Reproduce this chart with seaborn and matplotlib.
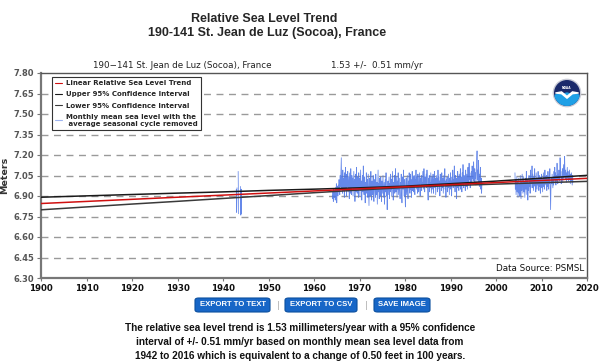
import numpy as np
import pandas as pd
import seaborn as sns
import matplotlib
import matplotlib.pyplot as plt
from matplotlib.lines import Line2D
from matplotlib.patches import FancyBboxPatch, Circle, Wedge, Polygon

matplotlib.use("Agg")

# monthly mean sea level (m), seasonal cycle removed
# 1942-1944 record: (start year, start month, values)
early_pieces = [
    (1942, 12, [6.95, 6.78, 6.96]),
    (1943, 5, [7.08, 6.77]),
    (1943, 11, [6.97, 6.76, 6.95, 6.77]),
]

# 1964-01 .. 1996-12
main_start = (1964, 1)
main_levels = [
    6.90, 6.88, 6.93, 6.86, 6.95, 6.91, 6.89, 6.94, 6.87, 6.96, 6.92, 6.99,
    6.85, 6.94, 6.97, 6.90, 6.98, 6.93, 7.02, 6.95, 6.91, 7.05, 6.97, 7.08,
    7.18, 6.96, 7.04, 6.92, 7.09, 6.98, 6.94, 7.03, 6.89, 7.07, 7.00, 7.11,
    6.95, 7.06, 6.90, 7.02, 6.97, 7.08, 6.93, 6.99, 7.04, 6.88, 7.01, 7.07,
    6.92, 7.10, 6.97, 6.91, 7.05, 6.96, 7.03, 6.90, 6.99, 7.08, 6.94, 7.02,
    6.86, 7.00, 7.06, 6.93, 7.11, 6.97, 6.92, 7.04, 6.98, 6.89, 7.07, 6.95,
    7.03, 6.90, 6.99, 7.09, 6.94, 7.01, 6.87, 6.98, 7.05, 6.93, 7.12, 6.96,
    6.91, 7.04, 6.97, 6.85, 7.00, 6.95, 7.07, 6.92, 6.98, 7.02, 6.89, 7.06,
    6.94, 6.83, 6.99, 7.03, 6.90, 6.96, 7.08, 6.93, 6.87, 7.01, 6.95, 6.91,
    7.05, 6.92, 6.86, 6.98, 7.02, 6.94, 6.89, 7.06, 6.97, 6.91, 7.00, 6.84,
    6.96, 7.09, 6.93, 6.99, 6.88, 7.03, 6.95, 6.90, 7.04, 6.97, 6.86, 7.01,
    6.92, 6.98, 7.05, 6.89, 6.95, 7.00, 6.84, 6.97, 7.02, 6.93, 7.07, 6.90,
    6.96, 6.80, 6.94, 7.01, 6.91, 6.97, 7.04, 6.88, 6.99, 6.93, 7.06, 6.95,
    7.02, 6.90, 6.98, 7.08, 6.94, 6.87, 7.00, 6.96, 7.05, 6.92, 6.99, 7.10,
    6.93, 7.04, 6.97, 6.89, 7.01, 6.95, 7.07, 6.91, 6.98, 7.03, 6.94, 6.88,
    7.00, 6.96, 7.06, 6.92, 6.85, 6.99, 7.04, 6.95, 7.09, 6.97, 6.90, 7.02,
    6.94, 6.82, 6.97, 7.03, 6.91, 6.99, 7.05, 6.93, 6.88, 7.01, 6.96, 7.07,
    6.98, 6.92, 7.06, 6.95, 7.02, 6.89, 6.97, 7.08, 6.94, 7.00, 7.04, 6.93,
    7.05, 6.96, 6.91, 7.02, 6.98, 7.09, 6.95, 6.99, 7.04, 6.92, 7.06, 6.97,
    6.93, 7.01, 7.07, 6.96, 6.90, 7.03, 6.99, 7.05, 6.94, 7.00, 6.97, 7.08,
    7.02, 6.95, 7.10, 6.98, 6.93, 7.04, 6.97, 7.01, 7.06, 6.96, 7.09, 6.99,
    6.94, 6.87, 7.03, 6.98, 7.05, 6.93, 7.00, 6.96, 7.07, 6.99, 6.92, 7.04,
    7.00, 6.95, 7.06, 6.92, 7.02, 6.98, 7.08, 6.96, 7.03, 6.91, 6.99, 7.05,
    6.97, 7.03, 6.93, 7.09, 6.99, 7.04, 6.95, 7.01, 6.90, 7.06, 6.98, 7.02,
    6.94, 7.07, 7.00, 6.96, 7.03, 6.92, 6.98, 7.05, 6.99, 7.10, 6.95, 7.01,
    6.89, 7.02, 6.97, 7.04, 6.93, 7.00, 6.96, 7.06, 6.98, 6.91, 7.03, 6.97,
    7.07, 6.95, 7.01, 6.90, 7.04, 6.98, 7.09, 6.96, 7.02, 6.99, 7.12, 7.00,
    6.93, 7.05, 6.97, 7.03, 6.88, 7.01, 6.96, 7.08, 6.99, 7.04, 6.94, 7.06,
    7.02, 6.97, 7.10, 6.95, 7.04, 7.00, 6.93, 7.07, 6.98, 7.13, 7.01, 6.96,
    7.05, 6.99, 7.03, 6.94, 7.09, 7.01, 6.97, 7.06, 7.00, 6.95, 7.11, 7.03,
    6.98, 7.14, 7.02, 7.07, 6.96, 7.04, 7.00, 7.08, 6.99, 7.12, 7.03, 7.06,
    7.01, 7.15, 7.04, 6.99, 7.10, 7.03, 7.07, 6.98, 7.05, 7.13, 7.23, 7.02,
    7.09, 7.00, 7.16, 7.04, 6.97, 7.06, 7.01, 7.11, 6.95, 7.03, 6.92, 7.00,
]

# 2004-03 .. 2016-12
late_start = (2004, 3)
late_levels = [
    7.07, 6.95, 7.02, 6.91, 6.98, 7.04, 6.93, 7.00, 6.89, 6.97,
    7.03, 6.92, 6.99, 6.90, 7.05, 6.96, 6.88, 7.01, 6.94, 7.06, 6.98, 6.92,
    6.99, 7.04, 6.93, 7.00, 6.89, 6.97, 7.03, 6.95, 7.08, 6.98, 6.91, 7.02,
    6.87, 6.99, 6.94, 7.05, 6.97, 7.01, 6.92, 7.09, 6.96, 7.03, 6.99, 7.12,
    6.96, 7.06, 7.00, 6.94, 7.04, 6.98, 7.10, 6.97, 7.02, 6.93, 7.07, 7.00,
    6.95, 7.03, 6.98, 7.08, 6.99, 6.94, 7.05, 6.97, 7.01, 6.92, 7.04, 6.98,
    7.06, 6.96, 7.02, 6.93, 7.00, 7.07, 6.97, 7.03, 6.95, 7.09, 6.99, 7.04,
    6.98, 7.05, 6.94, 7.02, 6.97, 7.08, 7.00, 6.95, 7.04, 6.99, 7.10, 6.96,
    6.80, 6.97, 7.03, 6.99, 7.06, 7.01, 6.96, 7.04, 6.98, 7.08, 7.02, 7.11,
    7.00, 7.07, 6.98, 7.05, 7.01, 7.14, 7.03, 6.99, 7.06, 7.02, 7.09, 7.04,
    7.01, 7.18, 7.05, 7.08, 6.99, 7.04, 7.02, 7.10, 7.00, 7.07, 7.13, 7.03,
    7.06, 7.19, 7.04, 7.09, 7.02, 7.07, 7.00, 7.05, 7.11, 7.03, 7.08, 7.01,
    7.05, 7.02, 7.09, 7.04, 6.99, 7.06, 7.01, 7.07, 7.03, 6.98, 7.05, 7.00,
]

# linear trend and 95% confidence band (m)
trend_years = [1900, 2020]
trend_levels = [6.845, 7.029]
band_years = [1900, 1910, 1920, 1930, 1940, 1950, 1960,
              1970, 1980, 1990, 2000, 2010, 2020]
upper_levels = [6.891, 6.901, 6.911, 6.921, 6.930, 6.941, 6.950,
                6.960, 6.972, 6.990, 7.009, 7.030, 7.051]
lower_levels = [6.799, 6.820, 6.841, 6.861, 6.882, 6.903, 6.924,
                6.944, 6.962, 6.976, 6.987, 6.997, 7.007]

y_ticks = [6.30, 6.45, 6.60, 6.75, 6.90, 7.05, 7.20, 7.35, 7.50, 7.65, 7.80]
x_ticks = list(range(1900, 2021, 10))

TREND_C = "#d01010"
UPPER_C = "#1a1a1a"
LOWER_C = "#3a3a3a"
DATA_C = "#4a73e6"


def px(x, y):
    """pixel position -> figure fraction"""
    return x / 600, 1 - y / 364


def monthly_frame():
    pieces = list(early_pieces) + [(*main_start, main_levels),
                                   (*late_start, late_levels)]
    rows = []
    for k, (yr, mo, vals) in enumerate(pieces):
        t0 = yr + (mo - 1) / 12
        for i, v in enumerate(vals):
            rows.append({"time": t0 + i / 12, "level": v, "piece": k})
    return pd.DataFrame(rows)


def main():
    sns.set_theme(style="white")
    plt.rcParams["font.family"] = ["DejaVu Sans"]

    fig = plt.figure(figsize=(6, 3.64), dpi=100)
    ax = fig.add_axes([41 / 600, 1 - 278 / 364, 546 / 600, 205 / 364])

    for y in y_ticks[1:-1]:
        ax.axhline(y, color="#9a9a9a", lw=1, dashes=(5, 4), zorder=0)

    df = monthly_frame()
    sns.lineplot(data=df, x="time", y="level", units="piece", estimator=None,
                 color=DATA_C, lw=0.55, alpha=0.85, ax=ax, zorder=2)
    sns.lineplot(x=band_years, y=upper_levels, color=UPPER_C, lw=1.1,
                 ax=ax, zorder=3)
    sns.lineplot(x=band_years, y=lower_levels, color=LOWER_C, lw=1.1,
                 ax=ax, zorder=3)
    sns.lineplot(x=trend_years, y=trend_levels, color=TREND_C, lw=1.1,
                 ax=ax, zorder=4)

    ax.set_xlim(1900, 2020)
    ax.set_ylim(6.30, 7.80)
    ax.set_xticks(x_ticks)
    ax.set_yticks(y_ticks)
    ax.set_xticklabels([str(x) for x in x_ticks], fontsize=6.2,
                       fontweight="bold", color="#111")
    ax.set_yticklabels([f"{y:.2f}" for y in y_ticks], fontsize=6,
                       fontweight="bold", color="#555")
    ax.tick_params(axis="y", length=3, width=0.8, color="#777", pad=2,
                   left=True)
    ax.tick_params(axis="x", length=2, width=0.8, color="#777", pad=2,
                   bottom=True)
    ax.set_xlabel("")
    ax.set_ylabel("Meters", fontsize=6.8, fontweight="bold", color="#333",
                  labelpad=3)
    for side, sp in ax.spines.items():
        sp.set_color("#555")
        sp.set_linewidth(1.0)
    ax.spines["left"].set_linewidth(1.6)
    ax.spines["left"].set_color("#777")
    ax.spines["bottom"].set_linewidth(1.6)
    ax.spines["bottom"].set_color("#777")

    handles = [Line2D([], [], color=TREND_C, lw=0.8),
               Line2D([], [], color=UPPER_C, lw=0.8),
               Line2D([], [], color=LOWER_C, lw=0.8),
               Line2D([], [], color="#9db4f0", lw=0.8)]
    labels = ["Linear Relative Sea Level Trend",
              "Upper 95% Confidence Interval",
              "Lower 95% Confidence Interval",
              "Monthly mean sea level with the\n average seasonal cycle removed"]
    leg = ax.legend(handles, labels, loc="upper left",
                    bbox_to_anchor=(0.02, 0.982), borderaxespad=0,
                    fancybox=False, edgecolor="#333", framealpha=1,
                    handlelength=1.0, handletextpad=0.5, borderpad=0.5,
                    labelspacing=0.75,
                    prop={"weight": "bold", "size": 5.0})
    leg.get_frame().set_linewidth(0.8)

    ax.text(0.995, 0.025, "Data Source: PSMSL", transform=ax.transAxes,
            ha="right", va="bottom", fontsize=6.3, color="#111")

    # NOAA logo
    lx, ly = px(567, 93)
    la = fig.add_axes([lx - 15 / 600, ly - 15 / 364, 30 / 600, 30 / 364])
    la.set_xlim(-1.1, 1.1)
    la.set_ylim(-1.1, 1.1)
    la.set_aspect("equal")
    la.axis("off")
    la.add_patch(Circle((0, 0), 1.0, color="#c9cbd6"))
    la.add_patch(Circle((0, 0), 0.9, color="#1b2a6b"))
    la.add_patch(Wedge((0, 0), 0.9, 195, 345, color="#1fa0e6"))
    la.add_patch(Polygon([(-0.88, -0.15), (-0.4, -0.05), (0, -0.35),
                          (0.4, -0.05), (0.88, -0.15), (0.6, -0.45),
                          (0, -0.6), (-0.6, -0.45)], color="#1fa0e6"))
    la.add_patch(Polygon([(-0.85, 0.0), (-0.4, 0.08), (0, -0.25),
                          (0.4, 0.08), (0.85, 0.0), (0.4, -0.05),
                          (0, -0.38), (-0.4, -0.05)], color="white"))
    la.text(0, 0.35, "NOAA", ha="center", va="center", fontsize=2.2,
            color="white", fontweight="bold")

    # header
    hdr = ["Liberation Sans", "DejaVu Sans"]
    fig.text(*px(264, 19), "Relative Sea Level Trend", ha="center",
             va="center", fontsize=9, fontweight="bold", family=hdr)
    fig.text(*px(267, 33), "190-141 St. Jean de Luz (Socoa), France",
             ha="center", va="center", fontsize=9, fontweight="bold",
             family=hdr)
    fig.text(*px(182, 66), "190\u2212141 St. Jean de Luz (Socoa), France",
             ha="center", va="center", fontsize=6.3, color="#222")
    fig.text(*px(377, 66), "1.53 +/-  0.51 mm/yr", ha="center",
             va="center", fontsize=6.3, color="#222")

    # buttons
    buttons = [("EXPORT TO TEXT", 195, 270), ("EXPORT TO CSV", 285, 357),
               ("SAVE IMAGE", 374, 430)]
    for label, x0, x1 in buttons:
        bx, by = px(x0, 312)
        box = FancyBboxPatch((bx, by), (x1 - x0) / 600, 14 / 364,
                             boxstyle="round,pad=0,rounding_size=0.006",
                             transform=fig.transFigure, facecolor="#1766c7",
                             edgecolor="#0c4f9e", lw=0.8)
        fig.patches.append(box)
        fig.text(*px((x0 + x1) / 2, 305), label, ha="center", va="center",
                 fontsize=5.6, fontweight="bold", color="white", family=hdr)
    for sx in (278, 366):
        fig.text(*px(sx, 305), "|", ha="center", va="center", fontsize=6,
                 color="#aaa")

    para = ["The relative sea level trend is 1.53 millimeters/year with a 95% confidence",
            "interval of +/- 0.51 mm/yr based on monthly mean sea level data from",
            "1942 to 2016 which is equivalent to a change of 0.50 feet in 100 years."]
    for i, line in enumerate(para):
        fig.text(*px(300, 328 + i * 14), line, ha="center", va="center",
                 fontsize=7.2, fontweight="bold", family=hdr, color="#111")

    fig.savefig("out.png", dpi=100, facecolor="white")


if __name__ == "__main__":
    main()
